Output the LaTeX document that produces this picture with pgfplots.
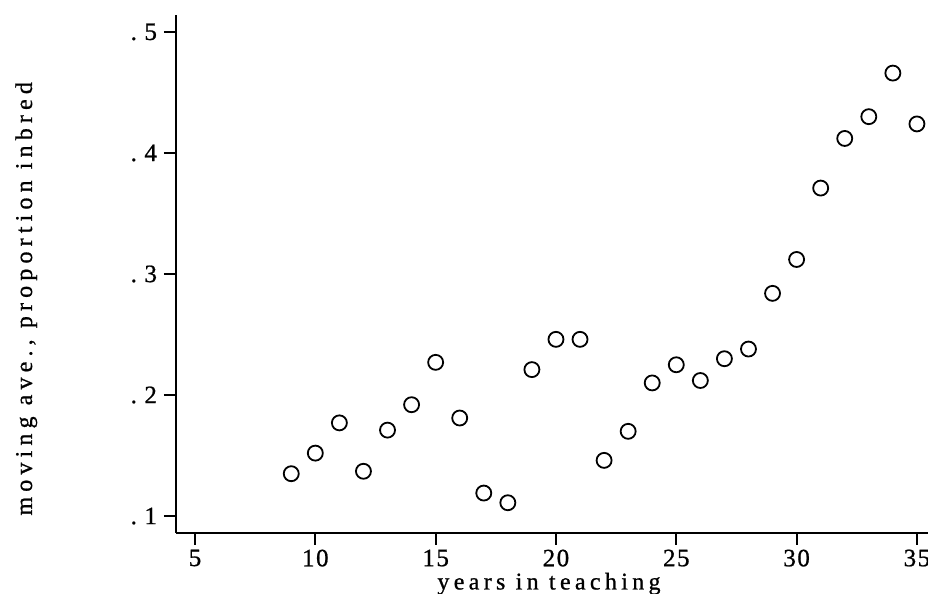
\documentclass[border=0pt]{standalone}
\usepackage{fontspec}
\setmainfont{Liberation Serif}
\newfontfamily\xspaced[LetterSpace=18, FakeBold=0.8]{Liberation Serif}
\newfontfamily\yspaced[LetterSpace=21.5, FakeBold=0.8]{Liberation Serif}
\newfontfamily\tspaced[LetterSpace=6, FakeBold=0.8]{Liberation Serif}
\newfontfamily\ytspaced[LetterSpace=30, FakeBold=0.8]{Liberation Serif}
\usepackage{pgfplots}
\pgfplotsset{compat=1.18}
\usetikzlibrary{calc}

\begin{document}
\begin{tikzpicture}
\begin{axis}[
  width=376pt, height=259pt, scale only axis,
  xmin=4.21, xmax=35.46, ymin=0.086, ymax=0.514,
  axis x line=bottom, axis y line=left,
  axis line style={-, line width=1.1pt},
  xtick={5,10,15,20,25,30,35}, xticklabels={5,10,15,20,25,30,35},
  ytick={0.1,0.2,0.3,0.4,0.5}, yticklabels={.1,.2,.3,.4,.5},
  tick align=outside, major tick length=6pt,
  tick style={line width=0.9pt, black},
  xticklabel style={font=\fontsize{12.5}{14}\tspaced, yshift=1.2pt},
  yticklabel style={font=\fontsize{12.5}{14}\ytspaced},
  xlabel={years in teaching},
  ylabel={moving ave., proportion inbred},
  xlabel style={font=\fontsize{12}{14}\xspaced, at={(axis description cs:0.496,-0.109)}, anchor=base},
  ylabel style={font=\fontsize{12}{14}\yspaced, at={(axis description cs:-0.1915,0.452)}, anchor=base},
  clip=false]
\addplot[only marks, mark=o, mark size=3.75pt, mark options={line width=0.9pt, black}]
  coordinates {
  (9,0.135) (10,0.152) (11,0.177) (12,0.137) (13,0.171) (14,0.192)
  (15,0.227) (16,0.181) (17,0.119) (18,0.111) (19,0.221) (20,0.246)
  (21,0.246) (22,0.146) (23,0.170) (24,0.210) (25,0.225) (26,0.212)
  (27,0.230) (28,0.238) (29,0.284) (30,0.312) (31,0.371) (32,0.412)
  (33,0.430) (34,0.466) (35,0.424)};
\coordinate (bl) at (rel axis cs:0,0);
\end{axis}
\pgfresetboundingbox
\path[use as bounding box] ($(bl)+(-88pt,-30.5pt)$) rectangle ($(bl)+(376pt,266.5pt)$);
\end{tikzpicture}
\end{document}
